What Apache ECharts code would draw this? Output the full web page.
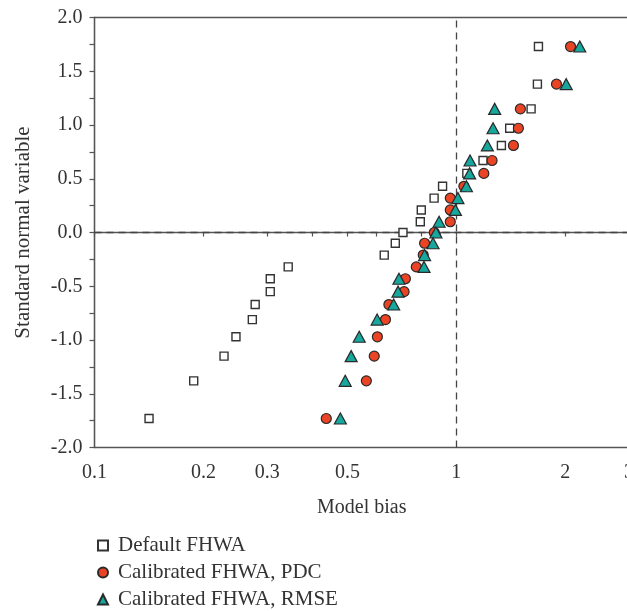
<!DOCTYPE html>
<html>
<head>
<meta charset="utf-8">
<script src="https://cdn.jsdelivr.net/npm/echarts@6/dist/echarts.min.js"></script>
<style>
html,body{margin:0;padding:0;background:#fff;}
#chart{width:627px;height:611px;}
</style>
</head>
<body>
<div id="chart"></div>
<script>
// Tick positions and labels on the log x axis
const xTickValues = [0.1, 0.2, 0.3, 0.4, 0.5, 0.6, 0.7, 0.8, 0.9, 1, 2, 3];
const xTickLabels = [0.1, 0.2, 0.3, 0.5, 1, 2, 3];

// Standard normal variable (y) for each ranked point, top to bottom
const zLevels = [1.73, 1.38, 1.15, 0.97, 0.81, 0.67, 0.55, 0.43, 0.32, 0.21, 0.10, 0,
  -0.10, -0.21, -0.32, -0.43, -0.55, -0.67, -0.81, -0.97, -1.15, -1.38, -1.73];

// Model bias (x) per series, same order as zLevels
const defaultFHWA = [1.686, 1.675, 1.609, 1.404, 1.332, 1.185, 1.069, 0.916, 0.868, 0.800, 0.795, 0.712,
  0.678, 0.632, 0.343, 0.306, 0.306, 0.278, 0.273, 0.246, 0.228, 0.188, 0.1415];
const calibratedPDC = [2.068, 1.891, 1.503, 1.484, 1.438, 1.255, 1.191, 1.049, 0.962, 0.962, 0.962, 0.869,
  0.817, 0.810, 0.775, 0.723, 0.717, 0.651, 0.637, 0.605, 0.593, 0.564, 0.437];
const calibratedRMSE = [2.193, 2.012, 1.276, 1.263, 1.218, 1.091, 1.088, 1.066, 1.010, 0.994, 0.896, 0.878,
  0.862, 0.817, 0.814, 0.694, 0.690, 0.671, 0.604, 0.539, 0.512, 0.493, 0.478];

const seriesNames = ['Default FHWA', 'Calibrated FHWA, PDC', 'Calibrated FHWA, RMSE'];

const pairs = arr => arr.map((x, i) => [x, zLevels[i]]);
const FONT = 'Liberation Serif';
const INK = '#333';
const fmt = v => String(+Number(v).toPrecision(3));

const chart = echarts.init(document.getElementById('chart'), null, {renderer: 'canvas'});
chart.setOption({
  animation: false,
  backgroundColor: '#fff',
  textStyle: {fontFamily: FONT, color: INK},
  grid: {
    left: 94.5, right: -2, top: 17.5, bottom: 163.5,
    containLabel: false, outerBoundsMode: 'none',
    show: true, borderColor: '#555', borderWidth: 1.3, backgroundColor: 'transparent'
  },
  xAxis: {
    type: 'log', logBase: 10, min: 0.1, max: 3,
    name: 'Model bias', nameLocation: 'middle', nameGap: 50,
    nameTextStyle: {fontFamily: FONT, fontSize: 20, color: INK},
    axisLine: {show: true, lineStyle: {color: '#555', width: 1.3}},
    axisTick: {show: true, inside: false, length: 4, customValues: xTickValues, lineStyle: {color: '#555', width: 1.2}},
    minorTick: {show: false},
    axisLabel: {customValues: xTickLabels, formatter: fmt, margin: 15, fontFamily: FONT, fontSize: 20, color: INK},
    splitLine: {show: false}
  },
  yAxis: {
    type: 'value', min: -2, max: 2, interval: 0.5,
    name: 'Standard normal variable', nameLocation: 'middle', nameGap: 61,
    nameTextStyle: {fontFamily: FONT, fontSize: 21, color: INK},
    axisLine: {show: true, lineStyle: {color: '#555', width: 1.3}},
    axisTick: {show: true, length: 5, lineStyle: {color: '#555', width: 1.2}},
    minorTick: {show: true, splitNumber: 2, length: 5, lineStyle: {color: '#555', width: 1.2}},
    axisLabel: {formatter: v => v.toFixed(1), margin: 12, fontFamily: FONT, fontSize: 20, color: INK},
    splitLine: {show: false}
  },
  legend: {
    orient: 'vertical', left: 97, top: 535, padding: 0,
    itemWidth: 10, itemHeight: 10, itemGap: 6,
    textStyle: {fontFamily: FONT, fontSize: 21, color: INK, padding: [0, 0, 0, 5]},
    data: seriesNames
  },
  series: [
    {
      name: seriesNames[0], type: 'scatter', data: pairs(defaultFHWA),
      symbol: 'rect', symbolSize: 8, z: 2,
      itemStyle: {color: '#fff', borderColor: '#333', borderWidth: 1.4, opacity: 1},
      markLine: {
        silent: true, symbol: 'none', label: {show: false}, z: 1,
        lineStyle: {color: '#444', type: [7, 5], width: 1.3},
        data: [{xAxis: 1}, {yAxis: 0}]
      }
    },
    {
      name: seriesNames[1], type: 'scatter', data: pairs(calibratedPDC),
      symbol: 'circle', symbolSize: 10, z: 3,
      itemStyle: {color: '#EB4424', borderColor: '#2a2a2a', borderWidth: 1.2, opacity: 1}
    },
    {
      name: seriesNames[2], type: 'scatter', data: pairs(calibratedRMSE),
      symbol: 'triangle', symbolSize: [12, 11], z: 4,
      itemStyle: {color: '#16A79D', borderColor: '#2a2a2a', borderWidth: 1.2, opacity: 1}
    }
  ]
});
</script>
</body>
</html>
